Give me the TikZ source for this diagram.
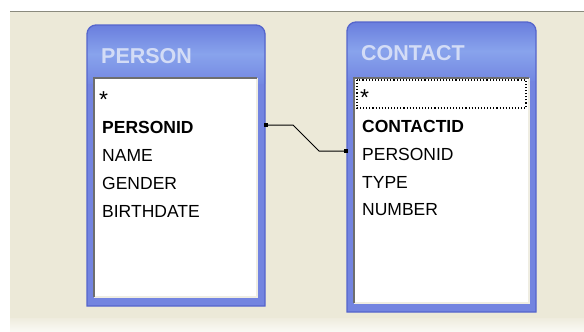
\documentclass[tikz,border=0pt]{standalone}
\usepackage{fontspec}
\setmainfont{Liberation Sans}
\definecolor{beige}{HTML}{ECE9D8}
\definecolor{topline}{HTML}{8A8A7E}
\definecolor{framefill}{HTML}{7384E0}
\definecolor{frameedge}{HTML}{5565CC}
\definecolor{headtop}{HTML}{6A7EDE}
\definecolor{headmid}{HTML}{88A3EC}
\definecolor{headbot}{HTML}{7488E2}
\definecolor{headtext}{HTML}{D3DCF6}
\definecolor{sunken}{HTML}{6E6E6E}
\definecolor{cream}{HTML}{EFEDE2}
\tikzset{
  tableframe/.style={anchor=north west, inner sep=0pt, outer sep=0pt},
  fieldbox/.style={anchor=north west, fill=white, inner sep=0pt, outer sep=0pt},
  headlabel/.style={anchor=west, inner sep=0pt, text=headtext, font=\fontsize{21.5}{24}\selectfont\bfseries},
  field/.style={anchor=west, inner sep=0pt, font=\fontsize{17.5}{20}\selectfont},
  starfield/.style={anchor=west, inner sep=0pt, font=\fontsize{23}{24}\selectfont},
  keyfield/.style={field, font=\fontsize{17.5}{20}\selectfont\bfseries},
  enddot/.style={fill=black, inner sep=0pt, minimum size=3.6pt},
  link/.style={draw=black, line width=1pt},
}
\newcommand{\frameoutline}[1]{([yshift=-9pt]#1.north west) arc[start angle=180,end angle=90,radius=9pt] -- ([xshift=-9pt]#1.north east) arc[start angle=90,end angle=0,radius=9pt] -- (#1.south east) -- (#1.south west) -- cycle}
\begin{document}
\begin{tikzpicture}[x=1pt,y=-1pt]
\useasboundingbox (0,0) rectangle (584,332);
% window background
\fill[white] (0,0) rectangle (584,332);
\fill[beige] (10,11) rectangle (584,318);
\shade[top color=beige!85!white, bottom color=beige!25!white] (10,318) rectangle (584,332);
\draw[topline, line width=1.6pt] (10,11.5) -- (584,11.5);

% frames
\node[tableframe, minimum width=178pt, minimum height=281pt] (person) at (87,25) {};
\node[tableframe, minimum width=189pt, minimum height=290pt] (contact) at (347,22) {};

\foreach \t in {person, contact}{
  \fill[framefill] \frameoutline{\t};
  \begin{scope}
    \clip \frameoutline{\t};
    \shade[top color=headtop, bottom color=headbot, middle color=headmid] (\t.north west) rectangle ([yshift=-58pt]\t.north east);
  \end{scope}
  \draw[frameedge, line width=1.3pt] \frameoutline{\t};
}

% field boxes
\node[fieldbox, minimum width=163pt, minimum height=219pt] (pbox) at (94,78) {};
\node[fieldbox, minimum width=175pt, minimum height=225pt] (cbox) at (354,78) {};
\foreach \b in {pbox, cbox}{
  \draw[cream, line width=1.2pt] (\b.north east) -- (\b.south east) -- (\b.south west);
  \draw[sunken, line width=1.2pt] (\b.south west) -- (\b.north west) -- (\b.north east);
}

% headers
\node[headlabel] (ptitle) at (101,56) {PERSON};
\node[headlabel] (ctitle) at (361,53) {CONTACT};

% PERSON fields
\node[starfield] (pstar) at (99,100) {*};
\node[keyfield] (ppid) at (102,127) {PERSONID};
\node[field] (pname) at (102,155) {NAME};
\node[field] (pgender) at (102,183) {GENDER};
\node[field] (pbirth) at (102,211) {BIRTHDATE};

% CONTACT fields
\node[starfield] (cstar) at (360,98) {*};
\draw[black, dotted, line width=1.1pt] (357,80) rectangle (526,108);
\node[keyfield] (ccid) at (362,126) {CONTACTID};
\node[field] (cpid) at (362,154) {PERSONID};
\node[field] (ctype) at (362,182) {TYPE};
\node[field] (cnum) at (362,210) {NUMBER};

% relationship connector
\coordinate (lend) at (266,125);
\coordinate (lbend) at (293,125);
\coordinate (rbend) at (319,151);
\coordinate (rend) at (346,151);
\draw[link] (lend) -- (lbend) -- (rbend) -- (rend);
\node[enddot] (ldot) at (lend) {};
\node[enddot] (rdot) at (rend) {};
\end{tikzpicture}
\end{document}
